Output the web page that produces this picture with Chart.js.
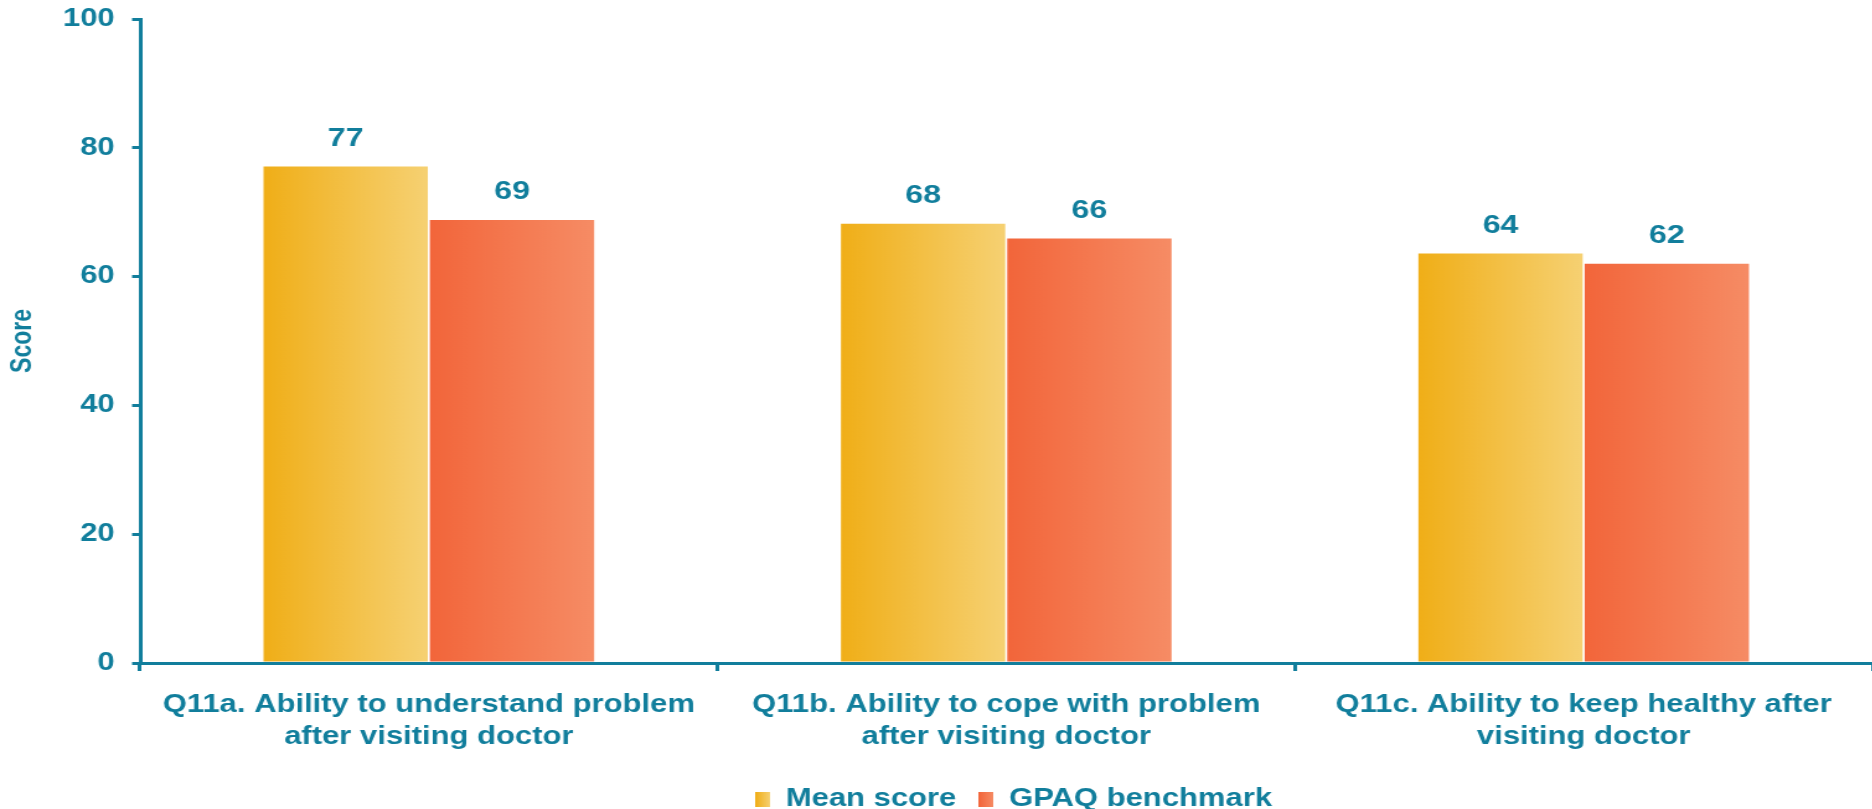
<!DOCTYPE html>
<html>
<head>
<meta charset="utf-8">
<script src="https://cdn.jsdelivr.net/npm/chart.js@4.4.1/dist/chart.umd.min.js"></script>
<style>
  html, body { margin: 0; padding: 0; background: #ffffff; overflow: hidden; }
  #wrap { width: 1510px; height: 809px; position: relative; transform: scaleX(1.24); transform-origin: 0 0; }
</style>
</head>
<body>
<div id="wrap"><canvas id="chart"></canvas></div>
<script>
// ---- Data ----
const categories = [
  ['Q11a. Ability to understand problem', 'after visiting doctor'],
  ['Q11b. Ability to cope with problem', 'after visiting doctor'],
  ['Q11c. Ability to keep healthy after', 'visiting doctor']
];
const seriesNames = ['Mean score', 'GPAQ benchmark'];
const meanScore = [77.1, 68.2, 63.6];
const gpaqBenchmark = [68.8, 65.9, 62.0];
const yTicks = [0, 20, 40, 60, 80, 100];
const yAxisTitle = 'Score';

// ---- Styles ----
const TEAL = '#117E9C';
const FONT = '"Liberation Sans", Arial, Helvetica, sans-serif';
const gradStops = [
  ['#F0AE17', '#F6D173'],
  ['#F2653A', '#F68C65']
];
const CAT_PCT = 0.576;
const BAR_PCT = 0.988;

function barGradient(context, dsIndex) {
  const chart = context.chart;
  const xs = chart.scales && chart.scales.x;
  const stops = gradStops[dsIndex];
  if (!chart.chartArea || !xs || !xs.width || context.dataIndex === undefined) return stops[0];
  const n = chart.data.labels.length;
  const catW = xs.width / n;
  const groupW = catW * CAT_PCT;
  const center = xs.getPixelForValue(context.dataIndex);
  const left = center - groupW / 2 + dsIndex * groupW / 2;
  const right = left + groupW / 2;
  const g = chart.ctx.createLinearGradient(left, 0, right, 0);
  g.addColorStop(0, stops[0]);
  g.addColorStop(1, stops[1]);
  return g;
}

function legendIcon(stops) {
  const c = document.createElement('canvas');
  c.width = 12; c.height = 15;
  const x = c.getContext('2d');
  const g = x.createLinearGradient(0, 0, 12, 0);
  g.addColorStop(0, stops[0]);
  g.addColorStop(1, stops[1]);
  x.fillStyle = g;
  x.fillRect(0, 0, 12, 15);
  return c;
}
const legendIcons = gradStops.map(legendIcon);

const valueLabels = {
  id: 'valueLabels',
  afterDatasetsDraw(chart) {
    const ctx = chart.ctx;
    ctx.save();
    ctx.font = 'bold 26px ' + FONT;
    ctx.fillStyle = TEAL;
    ctx.textAlign = 'center';
    ctx.textBaseline = 'middle';
    chart.data.datasets.forEach((ds, i) => {
      const meta = chart.getDatasetMeta(i);
      meta.data.forEach((bar, j) => {
        ctx.fillText(String(Math.round(ds.data[j])), bar.x, bar.y - 28);
      });
    });
    ctx.restore();
  }
};

const legendShift = {
  id: 'legendShift',
  afterLayout(chart) {
    const lg = chart.legend;
    if (!lg) return;
    lg.left += 6; lg.right += 6;
    lg.top += 2; lg.bottom += 2;
  }
};

new Chart(document.getElementById('chart'), {
  type: 'bar',
  data: {
    labels: categories,
    datasets: [
      { label: seriesNames[0], data: meanScore, backgroundColor: (c) => barGradient(c, 0),
        categoryPercentage: CAT_PCT, barPercentage: BAR_PCT, borderWidth: 0 },
      { label: seriesNames[1], data: gpaqBenchmark, backgroundColor: (c) => barGradient(c, 1),
        categoryPercentage: CAT_PCT, barPercentage: BAR_PCT, borderWidth: 0 }
    ]
  },
  options: {
    responsive: true,
    maintainAspectRatio: false,
    animation: false,
    layout: { padding: { top: 19, right: -3, bottom: -11, left: 0 } },
    plugins: {
      tooltip: { enabled: false },
      legend: {
        position: 'bottom',
        fullSize: false,
        labels: {
          color: TEAL,
          font: { family: FONT, size: 25, weight: 'bold', lineHeight: 1 },
          usePointStyle: true,
          boxWidth: 12,
          boxHeight: 15,
          padding: 18,
          generateLabels(chart) {
            return chart.data.datasets.map((ds, i) => ({
              text: ds.label,
              pointStyle: legendIcons[i],
              fillStyle: gradStops[i][0],
              strokeStyle: 'rgba(0,0,0,0)',
              lineWidth: 0,
              fontColor: TEAL,
              hidden: !chart.isDatasetVisible(i),
              datasetIndex: i
            }));
          }
        }
      }
    },
    scales: {
      x: {
        ticks: {
          color: TEAL,
          font: { family: FONT, size: 25, weight: 'bold', lineHeight: 1.28 },
          padding: 18,
          maxRotation: 0,
          autoSkip: false
        },
        grid: { drawOnChartArea: false, offset: true, tickLength: 8, color: TEAL, lineWidth: 3 },
        border: { color: TEAL, width: 3 },
        afterFit(s) { s.height = 104; s.paddingLeft = 0; s.paddingRight = 0; }
      },
      y: {
        min: 0,
        max: 100,
        afterBuildTicks(s) { s.ticks = yTicks.map(v => ({ value: v })); },
        ticks: {
          color: TEAL,
          font: { family: FONT, size: 25, weight: 'bold' },
          padding: 14
        },
        grid: { drawOnChartArea: false, tickLength: 6.5, color: TEAL, lineWidth: 3 },
        border: { color: TEAL, width: 3 },
        title: {
          display: true,
          text: yAxisTitle,
          color: TEAL,
          font: { family: FONT, size: 23, weight: 'bold' },
          padding: { top: 5, bottom: 0 }
        },
        afterFit(s) { s.width = 113; s.paddingTop = 0; s.paddingBottom = 0; }
      }
    }
  },
  plugins: [valueLabels, legendShift]
});
</script>
</body>
</html>
